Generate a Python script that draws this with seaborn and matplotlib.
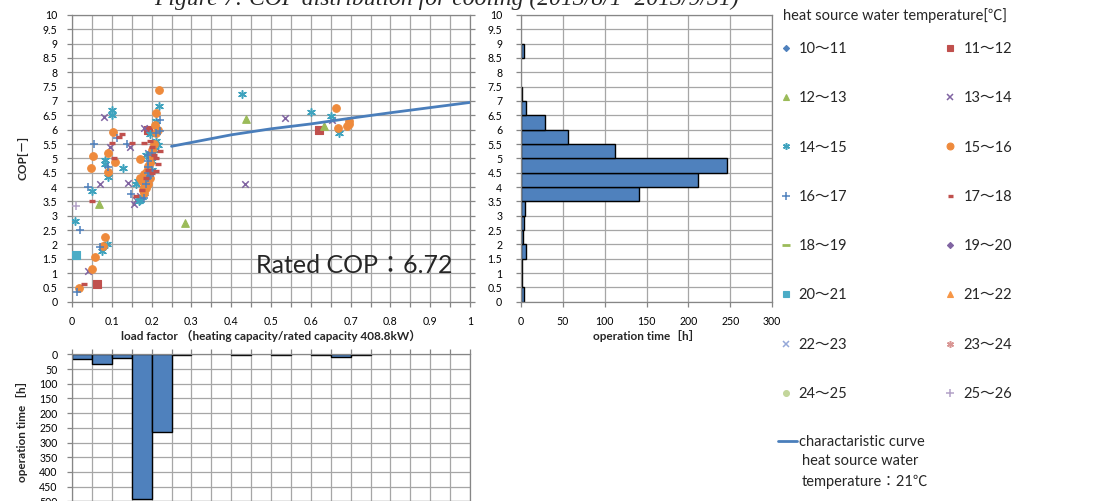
import numpy as np
import pandas as pd
import matplotlib
matplotlib.use("Agg")
import matplotlib.pyplot as plt
import seaborn as sns
from matplotlib.lines import Line2D
from matplotlib.ticker import MultipleLocator, FuncFormatter

sns.set_style("ticks")
plt.rcParams["font.family"] = ["Lato", "Noto Sans CJK JP", "DejaVu Sans"]

# ---------------- data ----------------
temp_labels = ["10〜11", "11〜12", "12〜13", "13〜14", "14〜15", "15〜16", "16〜17", "17〜18",
               "18〜19", "19〜20", "20〜21", "21〜22", "22〜23", "23〜24", "24〜25", "25〜26"]

s10_x, s10_y = [], []
s11_x = [0.19, 0.62, 0.063]
s11_y = [6.0, 6.0, 0.62]
s12_x = [0.068, 0.437, 0.632, 0.284]
s12_y = [3.42, 6.37, 6.13, 2.75]
s13_x = [0.08, 0.095, 0.07, 0.145, 0.14, 0.155, 0.16, 0.18, 0.435, 0.535, 0.652, 0.04, 0.19, 0.17]
s13_y = [6.45, 5.4, 4.12, 5.4, 4.13, 3.4, 3.55, 6.05, 4.1, 6.4, 6.33, 1.08, 5.2, 3.7]
s14_x = [0.427, 0.6, 0.65, 0.67, 0.1, 0.1, 0.083, 0.082, 0.09, 0.128, 0.049, 0.008, 0.075, 0.087,
         0.218, 0.165, 0.17, 0.175, 0.18, 0.2, 0.205, 0.21, 0.215, 0.195, 0.185, 0.16, 0.168, 0.2, 0.21]
s14_y = [7.23, 6.62, 6.47, 5.9, 6.68, 6.5, 4.95, 4.82, 4.35, 4.68, 3.85, 2.8, 1.77, 2.0,
         6.83, 4.2, 3.55, 3.65, 3.8, 4.9, 5.3, 5.6, 5.45, 5.85, 5.1, 4.1, 3.5, 4.6, 6.3]
s15_x = [0.218, 0.664, 0.669, 0.69, 0.695, 0.695, 0.102, 0.109, 0.052, 0.048, 0.09, 0.09, 0.084,
         0.079, 0.059, 0.049, 0.018, 0.211, 0.209, 0.172, 0.17, 0.175, 0.178, 0.18, 0.182, 0.185,
         0.188, 0.19, 0.195, 0.2, 0.205, 0.21, 0.215, 0.2, 0.19, 0.18, 0.185, 0.195]
s15_y = [7.38, 6.77, 6.05, 6.12, 6.2, 6.3, 5.91, 4.86, 5.08, 4.67, 5.17, 4.51, 2.24,
         1.95, 1.57, 1.13, 0.47, 6.59, 6.15, 4.98, 4.3, 4.2, 3.9, 3.8, 4.0, 4.4,
         4.55, 4.1, 4.3, 5.1, 5.5, 5.9, 6.0, 5.3, 4.75, 4.45, 3.95, 4.85]
s16_x = [0.055, 0.04, 0.112, 0.137, 0.09, 0.02, 0.012, 0.07, 0.148, 0.19, 0.19, 0.19, 0.19, 0.19,
         0.195, 0.2, 0.21, 0.22, 0.185, 0.18, 0.22, 0.2]
s16_y = [5.5, 4.0, 5.7, 5.5, 4.7, 2.5, 0.34, 1.9, 3.75, 4.3, 4.5, 4.7, 4.9, 5.1,
         4.4, 4.6, 5.9, 6.35, 4.1, 3.6, 5.95, 5.2]
s17_x = [0.118, 0.125, 0.1, 0.105, 0.05, 0.15, 0.18, 0.03, 0.2, 0.21, 0.215, 0.205, 0.19, 0.185,
         0.175, 0.2, 0.22, 0.16, 0.195, 0.21]
s17_y = [5.75, 5.85, 5.55, 5.0, 3.5, 5.55, 5.55, 0.6, 5.4, 5.0, 4.8, 5.1, 4.6, 4.3,
         3.9, 4.5, 5.25, 3.7, 5.6, 4.55]
s18_x, s18_y = [], []
s19_x, s19_y = [], []
s20_x, s20_y = [0.009], [1.62]
s21_x, s21_y = [], []
s22_x, s22_y = [], []
s23_x, s23_y = [], []
s24_x, s24_y = [], []
s25_x, s25_y = [0.01], [3.35]

series_x = [s10_x, s11_x, s12_x, s13_x, s14_x, s15_x, s16_x, s17_x,
            s18_x, s19_x, s20_x, s21_x, s22_x, s23_x, s24_x, s25_x]
series_y = [s10_y, s11_y, s12_y, s13_y, s14_y, s15_y, s16_y, s17_y,
            s18_y, s19_y, s20_y, s21_y, s22_y, s23_y, s24_y, s25_y]

curve_x = [0.25, 0.4, 0.5, 0.6, 0.7, 0.8, 0.9, 1.0]
curve_y = [5.42, 5.82, 6.03, 6.2, 6.4, 6.59, 6.77, 6.95]

cop_edges = [0, 0.5, 1, 1.5, 2, 2.5, 3, 3.5, 4, 4.5, 5, 5.5, 6, 6.5, 7, 7.5, 8, 8.5, 9, 9.5, 10]
cop_hours = [3, 1.5, 1.5, 5.5, 2, 3, 5, 141, 212, 246, 112, 56, 29, 6.5, 1.5, 0, 0, 3, 0, 0]

lf_edges = [0, 0.05, 0.1, 0.15, 0.2, 0.25, 0.3, 0.35, 0.4, 0.45, 0.5,
            0.55, 0.6, 0.65, 0.7, 0.75, 0.8, 0.85, 0.9, 0.95, 1.0]
lf_hours = [16, 34, 14, 491, 265, 1.5, 0, 0, 2, 0, 1.5, 0, 3, 8, 1.5, 0, 0, 0, 0, 0]

# ---------------- styles ----------------
BLUE, RED, GREEN, PURPLE, TEAL, ORANGE = "#4F81BD", "#C0504D", "#9BBB59", "#8064A2", "#3FA3BE", "#EE8A3C"
ASTER = (6, 2, 0)
styles = [
    ("D", BLUE, 12, 0.8), ("s", RED, 28, 0.8), ("^", GREEN, 30, 0.8), ("x", PURPLE, 22, 1.1),
    (ASTER, TEAL, 30, 1.1), ("o", ORANGE, 30, 0.8), ("+", BLUE, 32, 1.1), ("_", RED, 16, 2.4),
    ("_", GREEN, 36, 2.0), ("D", PURPLE, 12, 0.8), ("s", "#4BACC6", 28, 0.8), ("^", "#F79646", 30, 0.8),
    ("x", "#95A8D8", 22, 1.1), (ASTER, "#D99694", 30, 1.1), ("o", "#C3D69B", 22, 0.8), ("+", "#B3A2C7", 32, 1.1),
]

GRID = "#A6A6A6"
SPINE = "#868686"
TICKFS = 7.6

fig = plt.figure(figsize=(11.01, 5.01), dpi=100)
ax = fig.add_axes([0.0654, 0.3978, 0.3615, 0.5723])
axr = fig.add_axes([0.4732, 0.3978, 0.2280, 0.5723])
axb = fig.add_axes([0.0654, -0.0008, 0.3615, 0.2936])

fmt = FuncFormatter(lambda v, _: f"{v:g}")


def style(a):
    for s in a.spines.values():
        s.set_visible(True)
        s.set_color(SPINE)
        s.set_linewidth(0.9)
    a.grid(True, which="both", color=GRID, linewidth=0.9)
    a.set_axisbelow(True)
    a.tick_params(which="both", direction="out", length=3.5, width=0.9, color=SPINE,
                  labelsize=TICKFS, labelcolor="black")


# ---------------- scatter ----------------
style(ax)
for xs, ys, (m, c, s, lw) in zip(series_x, series_y, styles):
    if len(xs) == 0:
        continue
    sns.scatterplot(x=xs, y=ys, marker=m, color=c, s=s, linewidth=lw,
                    edgecolor=c, ax=ax, legend=False, zorder=3)
sns.lineplot(x=curve_x, y=curve_y, color="#4A7EBB", linewidth=2, estimator=None, ax=ax, zorder=4)
ax.set_xlim(0, 1)
ax.set_ylim(0, 10)
ax.xaxis.set_major_locator(MultipleLocator(0.1))
ax.xaxis.set_minor_locator(MultipleLocator(0.05))
ax.yaxis.set_major_locator(MultipleLocator(0.5))
ax.xaxis.set_major_formatter(fmt)
ax.yaxis.set_major_formatter(fmt)
ax.tick_params(axis="x", which="both", pad=7)
ax.tick_params(axis="y", pad=7, right=True, labelright=False)
ax.set_xlabel("load factor （heating capacity/rated capacity 408.8kW）", fontsize=8.5,
              fontweight="bold", labelpad=2)
ax.set_ylabel("COP[－]", fontsize=8.5, fontweight="bold", labelpad=10)
ax.text(0.462, 0.125, "Rated COP：6.72", transform=ax.transAxes, fontsize=18,
        va="center", ha="left", zorder=5)

# ---------------- right histogram ----------------
style(axr)
sns.histplot(y=cop_edges[:-1], weights=cop_hours, bins=cop_edges, color=BLUE, alpha=1,
             edgecolor="black", linewidth=1, ax=axr)
for p in axr.patches:
    if p.get_width() == 0:
        p.set_linewidth(0)
axr.set_xlim(0, 300)
axr.set_ylim(0, 10)
axr.xaxis.set_major_locator(MultipleLocator(50))
axr.yaxis.set_major_locator(MultipleLocator(0.5))
axr.yaxis.set_major_formatter(fmt)
axr.tick_params(axis="y", pad=10)
axr.tick_params(axis="x", pad=7)
axr.set_xlabel("operation time［h］", fontsize=8.5, fontweight="bold", labelpad=2)
axr.set_ylabel("")

# ---------------- bottom histogram ----------------
style(axb)
sns.histplot(x=lf_edges[:-1], weights=lf_hours, bins=lf_edges, color=BLUE, alpha=1,
             edgecolor="black", linewidth=1, ax=axb)
for p in axb.patches:
    if p.get_height() == 0:
        p.set_linewidth(0)
axb.set_xlim(0, 1)
axb.set_ylim(500, 0)
axb.xaxis.set_major_locator(MultipleLocator(0.05))
axb.yaxis.set_major_locator(MultipleLocator(50))
axb.yaxis.set_major_formatter(fmt)
axb.xaxis.tick_top()
axb.tick_params(axis="x", labeltop=False, labelbottom=False)
axb.tick_params(axis="y", pad=7)
axb.set_xlabel("")
axb.set_ylabel("operation time［h］", fontsize=8.5, fontweight="bold", labelpad=8)

# ---------------- legend ----------------
handles = []
for (m, c, s, lw) in styles:
    handles.append(Line2D([], [], linestyle="none", marker=m, color=c, markerfacecolor=c,
                          markeredgecolor=c, markersize=np.sqrt(s) * 0.9, markeredgewidth=lw))
order = list(range(0, 16, 2)) + list(range(1, 16, 2))
leg = fig.legend([handles[i] for i in order], [temp_labels[i] for i in order], ncol=2,
                 loc="upper left", bbox_to_anchor=(779 / 1101, 1 - 42 / 501), frameon=False,
                 fontsize=10.5, labelspacing=2.42, handlelength=0.9, handletextpad=0.45,
                 columnspacing=6.6, borderpad=0, borderaxespad=0)
fig.text(783 / 1101, 1 - 16 / 501, "heat source water temperature[℃]", fontsize=10.5,
         va="center", ha="left")
leg2 = fig.legend([Line2D([], [], color="#4A7EBB", linewidth=2)], ["charactaristic curve"],
                  loc="center left", bbox_to_anchor=(778 / 1101, 1 - 442 / 501), frameon=False,
                  fontsize=10.5, handlelength=1.3, handletextpad=0.15, borderpad=0, borderaxespad=0)
fig.text(802 / 1101, 1 - 461 / 501, "heat source water", fontsize=10.5, va="center", ha="left")
fig.text(802 / 1101, 1 - 482 / 501, "temperature：21℃", fontsize=10.5, va="center", ha="left")

# ---------------- title (partly cut off at top) ----------------
fig.text(447 / 1101, 1 - 5 / 501, "Figure 7: COP distribution for cooling (2013/8/1~2013/9/31)",
         fontsize=17, family="Liberation Serif", style="italic", ha="center", va="baseline")

fig.savefig("out.png", dpi=100)
